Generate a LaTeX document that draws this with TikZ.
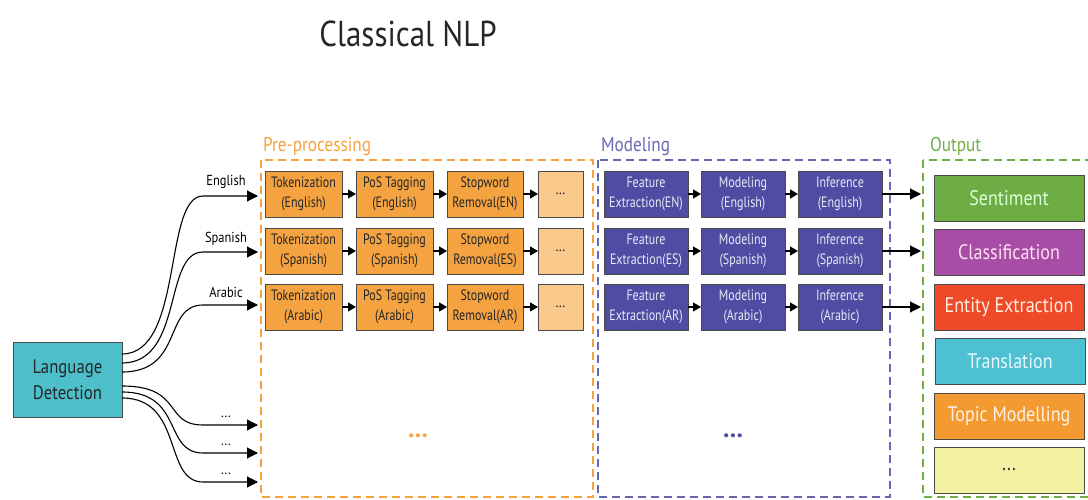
\documentclass[tikz,border=0pt]{standalone}
\usepackage{fontspec}
\setmainfont{PT Sans}
\newfontfamily\cond{PT Sans}[FakeStretch=0.86]
\newfontfamily\condx{PT Sans}[FakeStretch=0.8]
\usetikzlibrary{arrows.meta,calc}

\definecolor{preorange}{HTML}{F4A340}
\definecolor{prelight}{HTML}{F9C98C}
\definecolor{modpurple}{HTML}{4E4CA3}
\definecolor{outgreen}{HTML}{72AE48}
\definecolor{ldteal}{HTML}{4DBFCB}
\definecolor{sentgreen}{HTML}{6DAD44}
\definecolor{classpurple}{HTML}{A84DA6}
\definecolor{entred}{HTML}{EE4A2A}
\definecolor{transcyan}{HTML}{4DC1D1}
\definecolor{topicorange}{HTML}{F39A30}
\definecolor{moreyellow}{HTML}{F3F1A3}
\definecolor{boxline}{HTML}{4A4A4A}

\tikzset{
  x=1pt, y=-1pt,
  every node/.style={inner sep=0pt, outer sep=0pt, align=center},
  stage/.style={draw=boxline, line width=0.8pt, minimum height=46pt,
    font=\condx\fontsize{15}{19.5}\selectfont},
  prebox/.style={stage, fill=preorange, text=black!85, minimum width=77pt},
  modbox/.style={stage, fill=modpurple, text=white!88!modpurple, minimum width=84pt},
  outbox/.style={draw=boxline, line width=0.8pt, minimum width=150pt, minimum height=46pt,
    font=\cond\fontsize{21}{22}\selectfont},
  group/.style={dashed, dash pattern=on 8pt off 5pt, line width=1.6pt},
  grouplabel/.style={anchor=south west, font=\cond\fontsize{20}{21}\selectfont},
  link/.style={line width=1.1pt, -{Triangle[length=8pt,width=9pt]}},
  route/.style={line width=1.1pt, -{Triangle[length=11pt,width=11pt]}},
  lang/.style={font=\cond\fontsize{14.5}{15}\selectfont, anchor=south},
  bigdots/.style={font=\bfseries\fontsize{26}{26}\selectfont},
}

\begin{document}
\begin{tikzpicture}
\useasboundingbox (0,0) rectangle (1088,500);

% title
\node[font=\cond\fontsize{36}{38}\selectfont, text=black!85] (title) at (408,34) {Classical NLP};

% dashed stage groups
\draw[group, preorange] (261,160) rectangle (593,497);
\draw[group, modpurple!85] (598,160) rectangle (890,497);
\begin{scope}
  \clip (900,150) rectangle (1088,500);
  \draw[group, outgreen] (923,160) rectangle (1100,497);
\end{scope}
\node[grouplabel, text=preorange] (lpre) at (263,156) {Pre-processing};
\node[grouplabel, text=modpurple!85] (lmod) at (601,156) {Modeling};
\node[grouplabel, text=outgreen] (lout) at (930,156) {Output};

% language detection
\node[draw=boxline, line width=0.8pt, fill=ldteal, minimum width=109pt, minimum height=75pt,
  font=\cond\fontsize{19.5}{26}\selectfont, text=black!85] (ld) at (67.5,379.5) {Language\\Detection};

% pre-processing and modeling rows
\foreach \r/\y/\lng/\ab in {1/194/English/EN, 2/251/Spanish/ES, 3/307/Arabic/AR}{
  \node[prebox] (tok\r) at (303.5,\y) {Tokenization\\(\lng)};
  \node[prebox] (pos\r) at (394.5,\y) {PoS Tagging\\(\lng)};
  \node[prebox, minimum width=76pt] (stop\r) at (485,\y) {Stopword\\Removal(\ab)};
  \node[stage, fill=prelight, minimum width=45pt] (more\r) at (560.5,\y) {...};
  \node[modbox] (feat\r) at (646,\y) {Feature\\Extraction(\ab)};
  \node[modbox] (model\r) at (743,\y) {Modeling\\(\lng)};
  \node[modbox] (inf\r) at (840,\y) {Inference\\(\lng)};
  \coordinate (out\r) at (921,\y);
  \draw[link] (tok\r) -- (pos\r);
  \draw[link] (pos\r) -- (stop\r);
  \draw[link] (stop\r) -- (more\r);
  \draw[link] (feat\r) -- (model\r);
  \draw[link] (model\r) -- (inf\r);
  \draw[route] (inf\r) -- (out\r);
}

% continuation marks
\node[bigdots, text=preorange] (predots) at (418,436) {...};
\node[bigdots, text=modpurple] (moddots) at (733,436) {...};

% output tasks
\node[outbox, fill=sentgreen, text=green!15!white] (sent) at (1009,198) {Sentiment};
\node[outbox, fill=classpurple, text=magenta!12!white] (cls) at (1009,252) {Classification};
\node[outbox, fill=entred, text=orange!12!white] (ent) at (1009,307) {Entity Extraction};
\node[outbox, fill=transcyan, text=cyan!10!white] (trans) at (1010,361) {Translation};
\node[outbox, fill=topicorange, text=orange!10!white] (topic) at (1009,416) {Topic Modelling};
\node[outbox, fill=moreyellow, text=black!80] (etc) at (1009,470) {...};

% language routes
\coordinate (s1) at ([yshift=25.5pt]ld.east);
\coordinate (s2) at ([yshift=16.5pt]ld.east);
\coordinate (s3) at ([yshift=7.5pt]ld.east);
\coordinate (s4) at ([yshift=-6.5pt]ld.east);
\coordinate (s5) at ([yshift=-12.5pt]ld.east);
\coordinate (s6) at ([yshift=-18.5pt]ld.east);
\coordinate (e1) at (258,196);
\coordinate (e2) at (258,252);
\coordinate (e3) at (258,305);
\coordinate (e4) at (258,425);
\coordinate (e5) at (258,453);
\coordinate (e6) at (258,482);

\foreach \i in {1,...,6}{
  \draw[route] (s\i) .. controls +(62,0) and ($(e\i)+(-95,0)$) .. ($(e\i)+(-55,0)$) -- (e\i);
}

\node[lang] (len) at (226,189) {English};
\node[lang] (les) at (226,245) {Spanish};
\node[lang] (lar) at (226,298) {Arabic};
\node[lang] (ld4) at (226,418) {...};
\node[lang] (ld5) at (226,446) {...};
\node[lang] (ld6) at (226,475) {...};
\end{tikzpicture}
\end{document}
